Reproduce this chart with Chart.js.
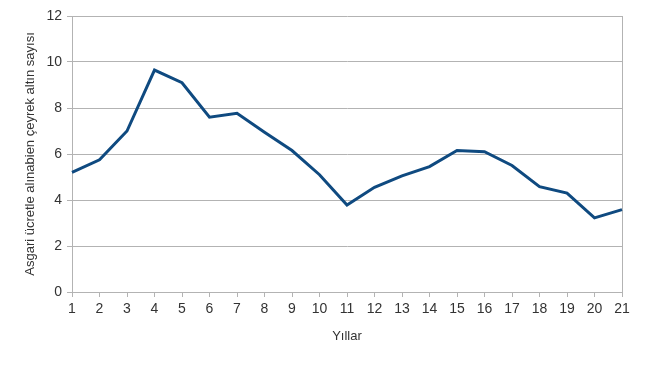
<!DOCTYPE html>
<html>
<head>
<meta charset="utf-8">
<script src="https://cdn.jsdelivr.net/npm/chart.js@4"></script>
<style>
  html, body { margin: 0; padding: 0; background: #fff; }
  #wrap { width: 650px; height: 365px; }
</style>
</head>
<body>
<div id="wrap"><canvas id="chart" width="650" height="365"></canvas></div>
<script>
const years = ['1', '2', '3', '4', '5', '6', '7', '8', '9', '10', '11',
  '12', '13', '14', '15', '16', '17', '18', '19', '20', '21']

const goldCount = [5.2, 5.75, 7.0, 9.65, 9.1, 7.6, 7.77, 6.95, 6.15, 5.1, 3.78,
  4.55, 5.05, 5.45, 6.15, 6.1, 5.5, 4.58, 4.3, 3.22, 3.58]

const yTicks = [0, 2, 4, 6, 8, 10, 12]

const yTitle = 'Asgari ücretle alınabien çeyrek altın sayısı'
const xTitle = 'Yıllar'

Chart.defaults.font.family = '"Liberation Sans", Arial, sans-serif'
Chart.defaults.color = '#333'

const ctx = document.getElementById('chart').getContext('2d')

new Chart(ctx, {
  type: 'line',
  data: {
    labels: years,
    datasets: [{
      data: goldCount,
      borderColor: '#0f4a80',
      borderWidth: 3,
      pointRadius: 0,
      tension: 0,
      fill: false,
    }]
  },
  options: {
    responsive: false,
    animation: false,
    layout: {
      padding: { left: 20, right: 28, top: 16, bottom: 10 }
    },
    plugins: {
      legend: { display: false },
      tooltip: { enabled: false },
    },
    scales: {
      x: {
        offset: false,
        grid: {
          display: true,
          drawOnChartArea: false,
          tickLength: 5,
          color: '#b3b3b3',
        },
        border: { color: '#b3b3b3' },
        ticks: {
          padding: 4,
          maxRotation: 0,
          autoSkip: false,
          font: { size: 14 },
        },
        title: {
          display: true,
          text: xTitle,
          font: { size: 13 },
          padding: { top: 4, bottom: 11 },
        },
        afterFit: (scale) => { scale.height = 63 },
      },
      y: {
        min: 0,
        max: 12,
        afterBuildTicks: (scale) => {
          scale.ticks = yTicks.map(v => ({ value: v }))
        },
        grid: {
          color: '#b3b3b3',
          tickLength: 5,
        },
        border: { color: '#b3b3b3' },
        ticks: {
          padding: 5,
          font: { size: 14 },
        },
        title: {
          display: true,
          text: yTitle,
          font: { size: 13 },
          padding: { top: 3, bottom: 4 },
        },
        afterFit: (scale) => { scale.width = 52 },
      },
      yRight: {
        position: 'right',
        display: true,
        grid: { display: false },
        ticks: { display: false },
        border: { color: '#b3b3b3' },
        afterFit: (scale) => { scale.width = 0 },
      },
    }
  }
})
</script>
</body>
</html>
